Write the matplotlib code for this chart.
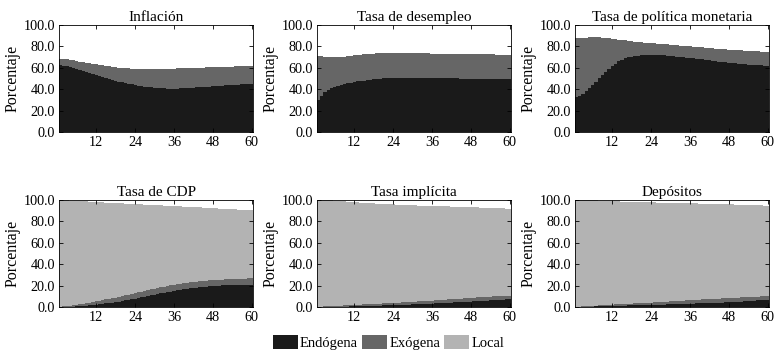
import numpy as np
import matplotlib
matplotlib.use("Agg")
from matplotlib import pyplot as plt
from matplotlib.patches import Patch

# horizons (months)
horizons = np.arange(1, 61)
titles = ["Inflación", "Tasa de desempleo", "Tasa de política monetaria",
          "Tasa de CDP", "Tasa implícita", "Depósitos"]
series_names = ["Endógena", "Exógena", "Local"]
xticks = [12, 24, 36, 48, 60]

# --- variance shares (%) ---
inflacion_endo = [62.5, 62.0, 61.4, 60.8, 60.1, 59.3, 58.4, 57.5, 56.5, 55.5, 54.5, 53.5, 52.5, 51.5, 50.5,
                  49.6, 48.7, 47.9, 47.1, 46.4, 45.7, 45.1, 44.5, 44.0, 43.5, 43.0, 42.6, 42.2, 41.8, 41.5,
                  41.2, 41.0, 40.8, 40.7, 40.6, 40.6, 40.7, 40.8, 41.0, 41.2, 41.4, 41.6, 41.8, 42.0, 42.2,
                  42.4, 42.6, 42.8, 43.0, 43.2, 43.4, 43.6, 43.8, 44.0, 44.2, 44.4, 44.5, 44.7, 44.8, 45.0]
inflacion_exo = [6.1, 6.3, 6.5, 6.6, 6.8, 7.1, 7.5, 7.9, 8.4, 8.9, 9.4, 9.9, 10.4, 10.9, 11.4,
                 11.8, 12.3, 12.7, 13.2, 13.6, 14.1, 14.5, 14.9, 15.3, 15.7, 16.1, 16.4, 16.8, 17.2, 17.5,
                 17.8, 18.0, 18.3, 18.5, 18.7, 18.8, 18.8, 18.8, 18.7, 18.6, 18.5, 18.4, 18.3, 18.2, 18.1,
                 18.0, 17.9, 17.8, 17.7, 17.6, 17.5, 17.4, 17.3, 17.2, 17.1, 17.1, 17.1, 17.0, 17.0, 17.0]

desempleo_endo = [30.0, 33.5, 37.0, 39.5, 41.0, 42.2, 43.2, 44.0, 44.8, 45.5, 46.2, 46.8, 47.3, 47.8, 48.2,
                  48.6, 49.0, 49.3, 49.6, 49.9, 50.1, 50.3, 50.5, 50.6, 50.7, 50.8, 50.9, 51.0, 51.0, 51.0,
                  51.0, 51.0, 50.9, 50.9, 50.8, 50.8, 50.7, 50.6, 50.6, 50.5, 50.4, 50.3, 50.2, 50.1, 50.0,
                  49.9, 49.8, 49.7, 49.7, 49.6, 49.6, 49.5, 49.5, 49.5, 49.5, 49.5, 49.5, 49.5, 49.5, 49.5]
desempleo_exo = [41.0, 37.3, 33.6, 30.9, 29.2, 27.9, 26.8, 26.1, 25.6, 25.3, 25.0, 24.8, 24.7, 24.6, 24.5,
                 24.4, 24.2, 24.1, 24.0, 23.8, 23.7, 23.6, 23.5, 23.4, 23.4, 23.3, 23.2, 23.1, 23.0, 23.0,
                 22.9, 22.8, 22.8, 22.7, 22.7, 22.6, 22.7, 22.7, 22.7, 22.7, 22.8, 22.8, 22.9, 22.9, 23.0,
                 23.0, 23.1, 23.1, 23.1, 23.1, 23.1, 23.1, 23.1, 23.0, 23.0, 22.9, 22.9, 22.8, 22.8, 22.7]

tpm_endo = [33.0, 34.0, 35.8, 38.0, 40.8, 43.8, 47.0, 50.2, 53.3, 56.3, 59.2, 61.8, 64.0, 66.0, 67.6,
            68.9, 69.9, 70.6, 71.1, 71.5, 71.8, 72.0, 72.1, 72.1, 72.1, 72.0, 71.9, 71.7, 71.5, 71.2,
            70.9, 70.6, 70.3, 70.0, 69.6, 69.3, 69.0, 68.6, 68.3, 67.9, 67.5, 67.1, 66.7, 66.3, 65.9,
            65.5, 65.1, 64.7, 64.4, 64.1, 63.8, 63.5, 63.2, 63.0, 62.8, 62.6, 62.4, 62.3, 62.2, 62.1]
tpm_exo = [55.0, 54.1, 52.4, 50.3, 47.6, 44.7, 41.5, 38.2, 34.9, 31.6, 28.4, 25.4, 22.8, 20.4, 18.4,
           16.7, 15.3, 14.3, 13.5, 12.8, 12.2, 11.7, 11.3, 11.0, 10.8, 10.6, 10.5, 10.4, 10.4, 10.4,
           10.5, 10.5, 10.6, 10.6, 10.8, 10.8, 10.9, 11.0, 11.1, 11.2, 11.4, 11.5, 11.7, 11.8, 12.0,
           12.1, 12.3, 12.4, 12.5, 12.6, 12.7, 12.8, 12.9, 12.9, 12.9, 12.9, 12.9, 12.9, 12.9, 12.9]

cdp_endo = [0.0, 0.1, 0.2, 0.3, 0.4, 0.6, 0.8, 1.0, 1.2, 1.5, 1.8, 2.1, 2.5, 2.9, 3.3,
            3.7, 4.1, 4.6, 5.1, 5.6, 6.1, 6.6, 7.2, 7.8, 8.4, 9.0, 9.6, 10.2, 10.8, 11.4,
            12.0, 12.6, 13.2, 13.8, 14.4, 15.0, 15.5, 16.0, 16.5, 17.0, 17.4, 17.8, 18.2, 18.5, 18.8,
            19.1, 19.3, 19.5, 19.7, 19.9, 20.1, 20.2, 20.3, 20.4, 20.5, 20.6, 20.7, 20.8, 20.9, 21.0]
cdp_exo = [0.3, 0.5, 0.7, 0.9, 1.2, 1.4, 1.7, 2.0, 2.3, 2.5, 2.8, 3.1, 3.3, 3.5, 3.7,
           3.9, 4.1, 4.2, 4.4, 4.6, 4.8, 5.0, 5.1, 5.2, 5.3, 5.4, 5.5, 5.6, 5.7, 5.8,
           5.8, 5.8, 5.8, 5.8, 5.8, 5.7, 5.7, 5.7, 5.7, 5.6, 5.6, 5.6, 5.5, 5.5, 5.5,
           5.5, 5.5, 5.5, 5.5, 5.5, 5.5, 5.6, 5.7, 5.7, 5.7, 5.8, 5.8, 5.8, 5.8, 5.8]
cdp_local = [99.5, 99.1, 98.6, 98.2, 97.6, 97.0, 96.4, 95.7, 95.1, 94.4, 93.6, 92.9, 92.1, 91.4, 90.6,
             89.8, 89.1, 88.3, 87.5, 86.6, 85.7, 84.9, 84.0, 83.2, 82.3, 81.4, 80.6, 79.7, 78.9, 78.0,
             77.2, 76.5, 75.7, 75.0, 74.2, 73.5, 72.9, 72.2, 71.6, 71.0, 70.4, 69.9, 69.4, 69.0, 68.5,
             68.0, 67.7, 67.3, 67.0, 66.6, 66.2, 65.9, 65.5, 65.3, 65.0, 64.6, 64.4, 64.1, 63.9, 63.7]

implicita_endo = [0.0, 0.0, 0.1, 0.1, 0.2, 0.2, 0.3, 0.3, 0.4, 0.4, 0.5, 0.6, 0.7, 0.8, 0.9,
                  1.0, 1.0, 1.1, 1.2, 1.3, 1.4, 1.5, 1.6, 1.7, 1.8, 1.9, 2.0, 2.1, 2.3, 2.4,
                  2.5, 2.6, 2.7, 2.8, 3.0, 3.1, 3.3, 3.4, 3.6, 3.7, 3.9, 4.0, 4.2, 4.3, 4.5,
                  4.7, 4.8, 5.0, 5.2, 5.4, 5.5, 5.7, 5.9, 6.1, 6.3, 6.5, 6.7, 6.8, 7.0, 7.2]
implicita_exo = [0.2, 0.3, 0.4, 0.5, 0.6, 0.7, 0.8, 0.9, 1.0, 1.1, 1.2, 1.3, 1.4, 1.4, 1.5,
                 1.6, 1.6, 1.7, 1.8, 1.8, 1.9, 2.0, 2.0, 2.1, 2.2, 2.2, 2.3, 2.4, 2.4, 2.5,
                 2.6, 2.6, 2.7, 2.7, 2.8, 2.9, 2.9, 3.0, 3.0, 3.1, 3.1, 3.2, 3.2, 3.3, 3.3,
                 3.4, 3.4, 3.5, 3.5, 3.5, 3.5, 3.5, 3.5, 3.5, 3.5, 3.5, 3.5, 3.5, 3.5, 3.5]
implicita_local = [99.8, 99.6, 99.3, 99.1, 98.7, 98.4, 98.0, 97.7, 97.2, 96.9, 96.4, 96.0, 95.6, 95.3, 94.9,
                   94.5, 94.3, 94.0, 93.6, 93.3, 93.0, 92.6, 92.4, 92.1, 91.7, 91.5, 91.2, 90.8, 90.5, 90.2,
                   89.9, 89.6, 89.3, 89.1, 88.7, 88.4, 88.1, 87.8, 87.5, 87.2, 86.9, 86.6, 86.3, 86.0, 85.7,
                   85.3, 85.1, 84.7, 84.4, 84.1, 83.9, 83.6, 83.3, 83.0, 82.7, 82.4, 82.1, 81.8, 81.5, 81.2]

depositos_endo = [0.0, 0.1, 0.1, 0.2, 0.3, 0.4, 0.5, 0.6, 0.7, 0.7, 0.8, 0.9, 1.0, 1.1, 1.2,
                  1.3, 1.4, 1.4, 1.5, 1.6, 1.7, 1.8, 1.8, 1.9, 2.0, 2.1, 2.2, 2.3, 2.4, 2.5,
                  2.6, 2.7, 2.8, 2.9, 3.0, 3.1, 3.2, 3.3, 3.4, 3.5, 3.6, 3.7, 3.8, 3.9, 4.0,
                  4.1, 4.3, 4.4, 4.6, 4.8, 4.9, 5.1, 5.3, 5.5, 5.7, 5.9, 6.1, 6.3, 6.5, 6.6]
depositos_exo = [0.2, 0.3, 0.4, 0.5, 0.6, 0.7, 0.8, 0.9, 1.0, 1.1, 1.2, 1.3, 1.4, 1.5, 1.5,
                 1.6, 1.7, 1.8, 1.9, 1.9, 2.0, 2.1, 2.1, 2.2, 2.3, 2.4, 2.5, 2.6, 2.7, 2.8,
                 2.8, 2.9, 3.0, 3.1, 3.2, 3.2, 3.3, 3.4, 3.5, 3.5, 3.6, 3.7, 3.7, 3.8, 3.8,
                 3.9, 3.9, 4.0, 4.0, 3.9, 3.9, 3.8, 3.8, 3.7, 3.7, 3.6, 3.6, 3.5, 3.5, 3.4]
depositos_local = [99.8, 99.5, 99.4, 99.1, 98.8, 98.5, 98.2, 97.9, 97.6, 97.3, 97.0, 96.6, 96.3, 96.0, 95.8,
                   95.5, 95.2, 95.1, 94.8, 94.6, 94.3, 94.0, 94.0, 93.7, 93.4, 93.1, 92.8, 92.6, 92.3, 92.0,
                   91.8, 91.6, 91.3, 91.0, 90.8, 90.6, 90.3, 90.0, 89.7, 89.6, 89.3, 89.0, 88.8, 88.5, 88.4,
                   88.1, 87.8, 87.5, 87.2, 87.0, 86.8, 86.6, 86.3, 86.1, 85.8, 85.6, 85.3, 85.1, 84.8, 84.7]

panels = [
    (inflacion_endo, inflacion_exo, None),
    (desempleo_endo, desempleo_exo, None),
    (tpm_endo, tpm_exo, None),
    (cdp_endo, cdp_exo, cdp_local),
    (implicita_endo, implicita_exo, implicita_local),
    (depositos_endo, depositos_exo, depositos_local),
]

colors = ["#1a1a1a", "#666666", "#b3b3b3"]

plt.rcParams['font.family'] = ['Liberation Serif', 'DejaVu Serif']
plt.rcParams['font.size'] = 10

fig = plt.figure(figsize=(7.77, 3.58), dpi=100)
lefts = [0.076, 0.408, 0.740]
bottoms = [0.631, 0.1425]
w, h = 0.250, 0.299

edges = np.arange(horizons[0] - 0.5, horizons[-1] + 1.0)

for i, (title, layers) in enumerate(zip(titles, panels)):
    ax = fig.add_axes([lefts[i % 3], bottoms[i // 3], w, h])
    base = np.zeros(len(horizons))
    for vals, c in zip(layers, colors):
        if vals is None:
            continue
        vals = np.asarray(vals)
        ax.stairs(base + vals, edges, baseline=base, fill=True, color=c, linewidth=0)
        base = base + vals
    ax.set_xlim(edges[0], edges[-1])
    ax.set_ylim(0, 100)
    ax.set_xticks(xticks)
    ax.set_yticks(np.arange(0, 101, 20))
    ax.yaxis.set_major_formatter(matplotlib.ticker.FormatStrFormatter('%.1f'))
    ax.tick_params(direction='in', top=True, right=True, length=3, width=0.6, pad=3,
                   labelsize=10.2)
    for s in ax.spines.values():
        s.set_linewidth(0.6)
    ax.set_ylabel("Porcentaje", labelpad=2, fontsize=11.5)
    ax.set_title(title, fontsize=11, pad=3)

handles = [Patch(facecolor=c, edgecolor='none') for c in colors]
fig.legend(handles, series_names, loc='lower center', bbox_to_anchor=(0.5, -0.015), ncol=3,
           frameon=False, handlelength=1.7, handleheight=1.1, handletextpad=0.15, columnspacing=0.3,
           fontsize=10.5)

fig.savefig("out.png", dpi=100)
